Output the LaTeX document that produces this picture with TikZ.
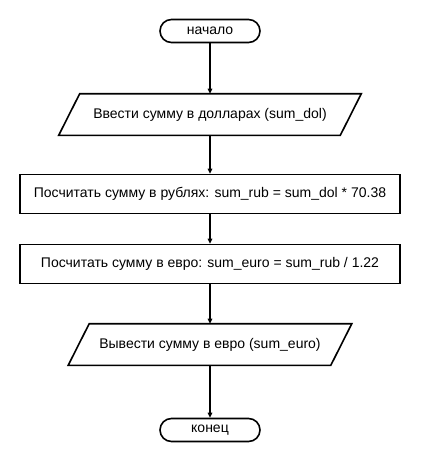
\documentclass[tikz,border=0pt]{standalone}
\usepackage{fontspec}
\setmainfont{Liberation Sans}
\usetikzlibrary{arrows.meta}
\begin{document}
\begin{tikzpicture}[x=1pt,y=-1pt,
  base/.style={draw=black,line width=1.6pt,inner sep=0pt,font=\fontsize{14}{16}\selectfont,text=black},
  term/.style={base,rectangle,rounded corners=11.5pt,minimum width=100pt,minimum height=23pt},
  io/.style={base,draw=none,rectangle,minimum height=40pt},
  ioframe/.style={draw=black,line width=1.6pt,line join=miter},
  proc/.style={base,rectangle,minimum width=380pt,minimum height=39pt},
  flow/.style={draw=black,line width=1.2pt,-{Triangle[length=5pt,width=4.5pt]}}]
\useasboundingbox (0,0) rectangle (420,460);
\node[term] (start) at (210,31) {начало};
\node[io,minimum width=280pt] (in) at (210,114.5) {Ввести сумму в долларах (sum\_dol)};
\draw[ioframe] ([xshift=10.5pt]in.north west) -- ([xshift=10.5pt]in.north east) -- ([xshift=-10.5pt]in.south east) -- ([xshift=-10.5pt]in.south west) -- cycle;
\node[proc] (rub) at (210,194) {Посчитать сумму в рублях: sum\_rub = sum\_dol * 70.38};
\node[proc] (eur) at (210,264) {Посчитать сумму в евро: sum\_euro = sum\_rub / 1.22};
\node[io,minimum width=261pt] (out) at (210,344.5) {Вывести сумму в евро (sum\_euro)};
\draw[ioframe] ([xshift=10.5pt]out.north west) -- ([xshift=10.5pt]out.north east) -- ([xshift=-10.5pt]out.south east) -- ([xshift=-10.5pt]out.south west) -- cycle;
\node[term] (end) at (210,430) {конец};
\draw[flow] (start) -- (in);
\draw[flow] (in) -- (rub);
\draw[flow] (rub) -- (eur);
\draw[flow] (eur) -- (out);
\draw[flow] (out) -- (end);
\end{tikzpicture}
\end{document}
